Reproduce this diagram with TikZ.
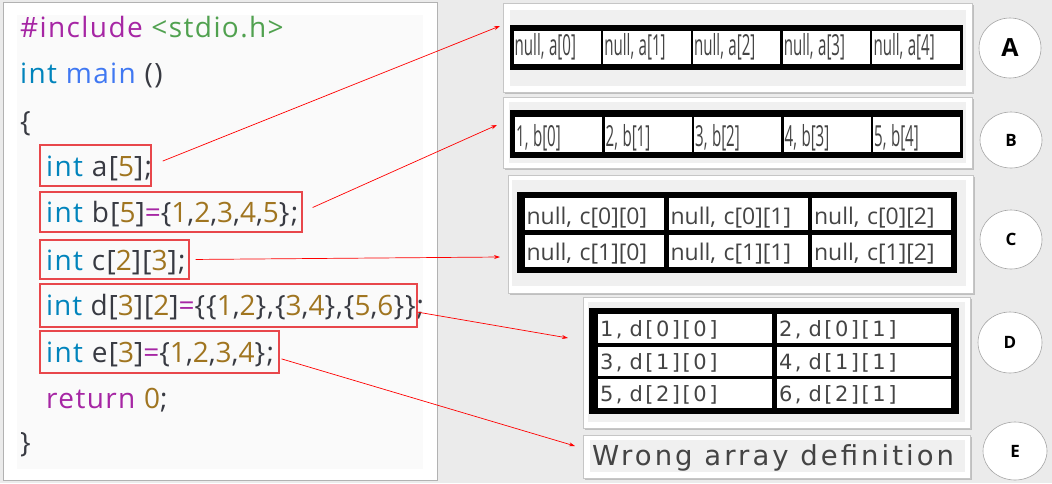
\documentclass[tikz,border=0pt]{standalone}
\usepackage{fontspec}
\setmainfont{Open Sans}
\newfontfamily\codefont[LetterSpace=5]{Open Sans}
\newfontfamily\codefontd[LetterSpace=3.5]{Open Sans}
\newfontfamily\narfont[FakeStretch=0.52]{Open Sans}
\newfontfamily\cfont{Open Sans}
\newfontfamily\dfont[LetterSpace=12]{DejaVu Sans}
\newfontfamily\efont[LetterSpace=11]{DejaVu Sans}
\usetikzlibrary{arrows.meta,shapes.geometric}
\definecolor{bg}{HTML}{EBEBEB}
\definecolor{codebg}{HTML}{FAFAFA}
\definecolor{ckw}{HTML}{A626A4}
\definecolor{cstr}{HTML}{50A14F}
\definecolor{cty}{HTML}{0184BC}
\definecolor{cfn}{HTML}{4078F2}
\definecolor{cpl}{HTML}{383A42}
\definecolor{cnum}{HTML}{A07520}
\definecolor{boxred}{HTML}{E8474B}
\definecolor{celltxt}{HTML}{444444}
\definecolor{panelin}{HTML}{F0F0F0}
\newcommand\Kw[1]{\textcolor{ckw}{#1}}
\newcommand\Str[1]{\textcolor{cstr}{#1}}
\newcommand\Ty[1]{\textcolor{cty}{#1}}
\newcommand\Fn[1]{\textcolor{cfn}{#1}}
\newcommand\Nm[1]{\textcolor{cnum}{#1}}
\begin{document}
\begin{tikzpicture}[x=1pt,y=-1pt,
  code/.style={anchor=base west, inner sep=0pt, text=cpl, font=\codefont\fontsize{28}{32}\selectfont},
  rbox/.style={draw=boxred, line width=1.2pt, inner sep=0pt},
  arr/.style={draw=red, line width=0.7pt, -{Stealth[length=6pt,width=4pt]}},
  panel/.style={fill=white, draw=gray!45, line width=0.6pt},
  pshadow/.style={fill=gray!50},
  lbl/.style={ellipse, draw=gray!70, fill=white, line width=0.6pt, inner sep=0pt, font=\cfont\bfseries\fontsize{17}{17}\selectfont},
  cellab/.style={fill=white, inner xsep=1.2pt, inner ysep=0pt, align=left, text=celltxt, font=\narfont\fontsize{29}{29}\selectfont},
  cellc/.style={fill=white, inner xsep=2pt, inner ysep=0pt, align=left, text width=135, text height=24, text depth=4, text=celltxt, font=\cfont\fontsize{23}{23}\selectfont},
  celld/.style={fill=white, inner xsep=2pt, inner ysep=0pt, align=left, text width=170, text height=20, text depth=4, text=celltxt, font=\dfont\fontsize{21}{21}\selectfont}
]
\useasboundingbox (0,0) rectangle (1052,483);
\fill[bg] (0,0) rectangle (1052,483);

% left code panel
\draw[fill=white, draw=gray!60, line width=0.8pt] (3,2) rectangle (437,480);
\fill[codebg] (17,15) rectangle (423,469);

\node[code] (l1) at (20,37) {\Kw{\#include} \Str{<stdio.h>}};
\node[code] (l2) at (20,83) {\Ty{int} \Fn{main} ()};
\node[code] (l3) at (20,131) {\{};
\node[code] (l4) at (46,176) {\Ty{int} a[\Nm{5}];};
\node[code] (l5) at (46,222) {\Ty{int} b[\Nm{5}]\Kw{=}\{\Nm{1},\Nm{2},\Nm{3},\Nm{4},\Nm{5}\};};
\node[code] (l6) at (46,270) {\Ty{int} c[\Nm{2}][\Nm{3}];};
\node[code, font=\codefontd\fontsize{28}{32}\selectfont] (l7) at (46,315) {\Ty{int} d[\Nm{3}][\Nm{2}]\Kw{=}\{\{\Nm{1},\Nm{2}\},\{\Nm{3},\Nm{4}\},\{\Nm{5},\Nm{6}\}\};};
\node[code] (l8) at (46,362) {\Ty{int} e[\Nm{3}]\Kw{=}\{\Nm{1},\Nm{2},\Nm{3},\Nm{4}\};};
\node[code] (l9) at (46,408) {\Kw{return} \Nm{0};};
\node[code] (l10) at (20,452) {\}};

% red boxes
\node[rbox, minimum width=111, minimum height=41] (ra) at (95.5,165.5) {};
\node[rbox, minimum width=262, minimum height=40] (rb) at (171,212) {};
\node[rbox, minimum width=149, minimum height=39] (rc) at (114.5,259.5) {};
\node[rbox, minimum width=377, minimum height=43] (rd) at (228.5,305.5) {};
\node[rbox, minimum width=239, minimum height=42] (re) at (159.5,352) {};

% right panels
\fill[pshadow] (504.5,4.5) rectangle (973.5,93.5);
\draw[panel] (503,3) rectangle (972,92);
\fill[panelin] (510,10) rectangle (966,86);
\fill[pshadow] (504.5,98.5) rectangle (973.5,169.5);
\draw[panel] (503,97) rectangle (972,168);
\fill[panelin] (509,102) rectangle (966,163);
\fill[pshadow] (509.5,176.5) rectangle (974.5,294.5);
\draw[panel] (508,175) rectangle (973,293);
\fill[panelin] (512,180) rectangle (966,286);
\fill[pshadow] (584.5,298.5) rectangle (971.5,429.5);
\draw[panel] (583,297) rectangle (970,428);
\fill[panelin] (588,302) rectangle (965,422);
\fill[pshadow] (584.5,436.5) rectangle (971.5,479.5);
\draw[panel] (583,435) rectangle (970,478);
\fill[panelin] (590,440) rectangle (965,472);

% table A
\fill[black] (510,25) rectangle (963,70);
\foreach \i in {0,...,4}
  \node[cellab, text width=85, minimum height=33, text height=22, text depth=7] (a\i) at (557.2+\i*89.7,47.5) {null,\hspace{4.5pt}a[\i]};
% table B
\fill[black] (510,110) rectangle (963,158);
\foreach \i/\v in {0/1,1/2,2/3,3/4,4/5}
  \node[cellab, text width=84.6, minimum height=35, text height=27, text depth=3] (b\i) at (558.5+\i*89.5,134.5) {\v,\hspace{4.5pt}b[\i]};
% table C
\fill[black] (517,192) rectangle (957,273);
\foreach \j/\y in {0/214,1/250.5}
  \foreach \i/\x in {0/594,1/738,2/881.5}
    \node[cellc, minimum height=32] (c\j\i) at (\x,\y) {null, c[\j][\i]};
% table D
\fill[black] (589,308) rectangle (959,414);
\foreach \j/\y/\p/\q in {0/328.5/1/2,1/361.5/3/4,2/393.5/5/6} {
  \node[celld, minimum height=29] (d\j0) at (685,\y) {\p, d[\j][0]};
  \node[celld, minimum height=29] (d\j1) at (864,\y) {\q, d[\j][1]};
}
% E text
\node[anchor=base west, inner sep=0pt, text=celltxt, font=\efont\fontsize{27.5}{27.5}\selectfont] (etxt) at (592,465) {Wrong array definition};

% circles
\node[lbl, minimum width=62, minimum height=60, font=\cfont\bfseries\fontsize{25}{25}\selectfont] (cA) at (1010,48) {A};
\node[lbl, minimum width=62, minimum height=56] (cB) at (1011,140) {B};
\node[lbl, minimum width=62, minimum height=59] (cC) at (1011,239.5) {C};
\node[lbl, minimum width=64, minimum height=61] (cD) at (1010,342.5) {D};
\node[lbl, minimum width=64, minimum height=58] (cE) at (1015,451) {E};

% arrows
\coordinate (tA) at (500,26);
\coordinate (tB) at (497,125);
\coordinate (tC) at (500,257);
\coordinate (tD) at (568,338);
\coordinate (tE) at (575,446);
\draw[arr, shorten <=12pt] (ra.east) -- (tA);
\draw[arr, shorten <=11pt] (rb.east) -- (tB);
\draw[arr, shorten <=6pt] (rc.east) -- (tC);
\draw[arr] (rd.-2) -- (tD);
\draw[arr, shorten <=2pt] (re.-3) -- (tE);
\end{tikzpicture}
\end{document}
